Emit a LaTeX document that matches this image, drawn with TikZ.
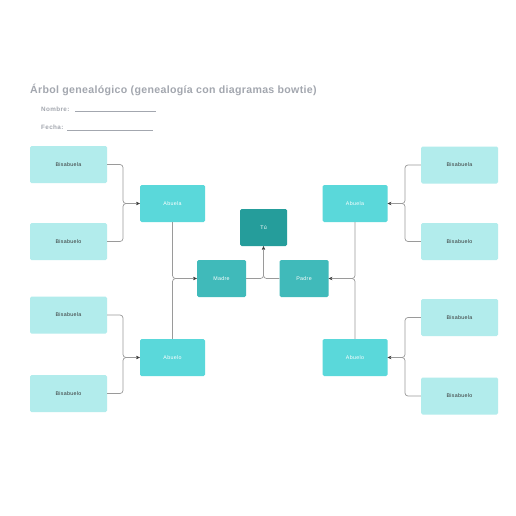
\documentclass[tikz,border=0pt]{standalone}
\usepackage{fontspec}
\setmainfont{Liberation Sans}
\usetikzlibrary{arrows.meta}
\definecolor{cbis}{HTML}{B2ECEC}
\definecolor{cabu}{HTML}{5AD8DA}
\definecolor{cpar}{HTML}{40BABA}
\definecolor{ctu}{HTML}{259D9B}
\definecolor{cline}{HTML}{9A9A9A}
\definecolor{ctitle}{HTML}{A3A7AF}
\definecolor{ctxt}{HTML}{333333}
\newfontfamily\spaced[LetterSpace=6]{Liberation Sans}
\newfontfamily\titlefont[LetterSpace=3]{Liberation Sans}
\tikzset{
  box/.style={rounded corners=1.5pt, inner sep=0pt, font=\spaced\fontsize{5.3}{6}\selectfont},
  bis/.style={box, fill=cbis, text=ctxt, minimum width=77pt, minimum height=37pt},
  abu/.style={box, fill=cabu, text=white, minimum width=65pt, minimum height=37pt},
  par/.style={box, fill=cpar, text=white, minimum width=49pt, minimum height=37pt},
  tub/.style={box, fill=ctu, text=white, minimum width=47pt, minimum height=37pt},
  conn/.style={draw=cline, line width=0.7pt, rounded corners=3pt, -{Stealth[length=3.5pt,width=3pt,color=black!75]}},
  lbl/.style={anchor=west, text=ctitle, inner sep=0pt, font=\spaced\bfseries\fontsize{6.3}{8}\selectfont},
}
\begin{document}
\begin{tikzpicture}[x=1pt,y=-1pt]
\useasboundingbox (0,0) rectangle (516,516);
\fill[white] (0,0) rectangle (516,516);
% title
\node[anchor=west, text=ctitle, inner sep=0pt, font=\titlefont\bfseries\fontsize{10.6}{12}\selectfont] (title) at (30,89.5) {Árbol genealógico (genealogía con diagramas bowtie)};
\node[lbl] (nombre) at (41,109) {Nombre:};
\node[lbl] (fecha) at (41,127.5) {Fecha:};
\coordinate (n1) at (75,111.5); \coordinate (n2) at (156,111.5);
\coordinate (f1) at (67,130); \coordinate (f2) at (153,130);
\draw[ctitle, line width=0.5pt] (n1) -- (n2);
\draw[ctitle, line width=0.5pt] (f1) -- (f2);
% left side
\node[bis] (bL1) at (68.5,164.5) {Bisabuela};
\node[bis] (bL2) at (68.5,241.5) {Bisabuelo};
\node[bis] (bL3) at (68.5,315) {Bisabuela};
\node[bis] (bL4) at (68.5,393.5) {Bisabuelo};
\node[abu] (aL1) at (172.5,203.5) {Abuela};
\node[abu] (aL2) at (172.5,357.5) {Abuelo};
% right side
\node[bis] (bR1) at (459.5,165) {Bisabuela};
\node[bis] (bR2) at (459.5,241.5) {Bisabuelo};
\node[bis] (bR3) at (459.5,317.5) {Bisabuela};
\node[bis] (bR4) at (459.5,396) {Bisabuelo};
\node[abu] (aR1) at (355,203.5) {Abuela};
\node[abu] (aR2) at (355,357.5) {Abuelo};
% center
\node[par] (madre) at (221.5,278.5) {Madre};
\node[par] (padre) at (304,278.5) {Padre};
\node[tub] (tu) at (263.5,227.5) {Tú};
% junctions
\coordinate (jL1) at (123,203.5);
\coordinate (jL2) at (123,357.5);
\coordinate (jR1) at (405,203.5);
\coordinate (jR2) at (405,357.5);
% connectors
\draw[conn] (bL1.east) -| (jL1) -- (aL1.west);
\draw[conn] (bL2.east) -| (jL1) -- (aL1.west);
\draw[conn] (bL3.east) -| (jL2) -- (aL2.west);
\draw[conn] (bL4.east) -| (jL2) -- (aL2.west);
\draw[conn] (bR1.west) -| (jR1) -- (aR1.east);
\draw[conn] (bR2.west) -| (jR1) -- (aR1.east);
\draw[conn] (bR3.west) -| (jR2) -- (aR2.east);
\draw[conn] (bR4.west) -| (jR2) -- (aR2.east);
\draw[conn] (aL1.south) |- (madre.west);
\draw[conn] (aL2.north) |- (madre.west);
\draw[conn] (aR1.south) |- (padre.east);
\draw[conn] (aR2.north) |- (padre.east);
\draw[conn] (madre.east) -| (tu.south);
\draw[conn] (padre.west) -| (tu.south);
\end{tikzpicture}
\end{document}
